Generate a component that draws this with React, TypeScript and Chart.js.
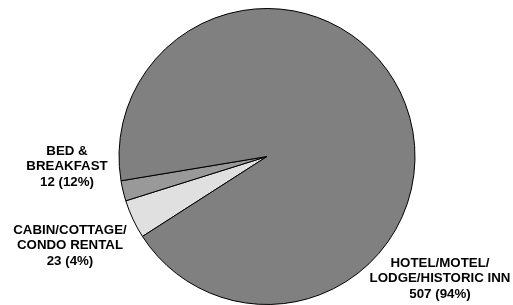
import React, { useEffect, useRef } from "react";
import { Chart, registerables } from "chart.js";

Chart.register(...registerables);

const categories = ["CABIN/COTTAGE/\nCONDO RENTAL", "BED &\nBREAKFAST", "HOTEL/MOTEL/\nLODGE/HISTORIC INN"];
const counts = [23, 12, 507];
const percentLabels = ["4%", "12%", "94%"];
const colors = ["#e0e0e0", "#999999", "#808080"];

// label anchor offsets from pie centre (layout only)
const labelOffsets = [
  { dx: -197, dy: 89 },
  { dx: -200, dy: 10 },
  { dx: 173, dy: 122 },
];

const labelPlugin = {
  id: "sliceLabels",
  afterDraw(chart: any) {
    const meta = chart.getDatasetMeta(0);
    const ctx = chart.ctx;
    ctx.save();
    ctx.font = 'bold 13.3px "Liberation Sans", Arial, sans-serif';
    ctx.fillStyle = "#000";
    ctx.textAlign = "center";
    ctx.textBaseline = "middle";
    const lineH = 15.5;
    meta.data.forEach((arc: any, i: number) => {
      const cx = arc.x + labelOffsets[i].dx;
      const cy = arc.y + labelOffsets[i].dy;
      const lines = [...categories[i].split("\n"), `${counts[i]} (${percentLabels[i]})`];
      const startY = cy - ((lines.length - 1) * lineH) / 2;
      lines.forEach((t, j) => ctx.fillText(t, cx, startY + j * lineH));
    });
    ctx.restore();
  },
};

export default function App() {
  const ref = useRef<HTMLCanvasElement | null>(null);
  useEffect(() => {
    document.body.style.margin = "0";
    const chart = new Chart(ref.current!, {
      type: "pie",
      data: {
        labels: categories.map((c) => c.replace("\n", " ")),
        datasets: [
          {
            data: counts,
            backgroundColor: colors,
            borderColor: "#000",
            borderWidth: 1,
          },
        ],
      },
      options: {
        responsive: false,
        animation: false,
        rotation: 237.3,
        layout: { padding: { top: 8, bottom: 0, left: 21, right: 0 } },
        plugins: { legend: { display: false }, tooltip: { enabled: false } },
      },
      plugins: [labelPlugin],
    });
    return () => chart.destroy();
  }, []);
  return (
    <div style={{ width: 513, height: 305 }}>
      <canvas ref={ref} width={513} height={305} />
    </div>
  );
}
